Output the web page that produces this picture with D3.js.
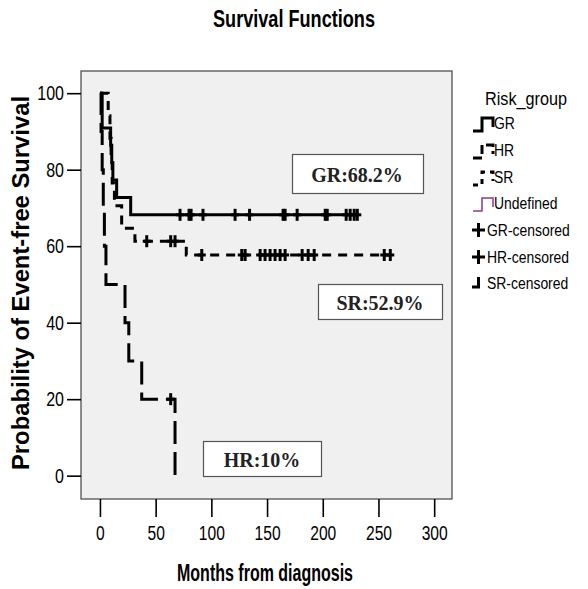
<!DOCTYPE html>
<html>
<head>
<meta charset="utf-8">
<script src="https://cdn.jsdelivr.net/npm/d3@7"></script>
<style>
  html, body { margin: 0; padding: 0; background: #ffffff; }
  svg { display: block; }
  .narrow { font-family: "Liberation Sans Narrow", "Arial Narrow", "Liberation Sans", Arial, sans-serif; }
  .serif { font-family: "Liberation Serif", "Times New Roman", serif; }
</style>
</head>
<body>
<svg id="chart" width="588" height="589"></svg>
<script>
// ---------------- DATA ----------------
const chartTitle = "Survival Functions";
const xTitle = "Months from diagnosis";
const yTitle = "Probability of Event-free Survival";
const xTicks = [0, 50, 100, 150, 200, 250, 300];
const yTicks = [0, 20, 40, 60, 80, 100];

// GR (solid)
const grTimes = [0, 2, 9.6, 10.6, 11.6, 15, 27.6];
const grSurv  = [100, 90.9, 86.4, 81.8, 77.3, 72.7, 68.2];
const grEnd = 231;
const grCensored = [71.9, 80, 81.8, 92.5, 121.3, 134.3, 164.4, 166.2, 177, 202.2, 204, 221, 224.6, 228.2, 231];

// HR (long dash)
const hrTimes = [0, 1, 2, 3, 4, 5.4, 22.5, 25.9, 37.5, 67.4];
const hrSurv  = [100, 90, 80, 70, 60, 50, 40, 30, 20, 0];
const hrEnd = 67.4;
const hrCensored = [63.5];

// SR (short dash)
const srTimes = [0, 7.4, 9, 10, 11, 13, 19.5, 31.4, 77.5];
const srSurv  = [100, 94.1, 88.2, 82.4, 76.5, 70.6, 64.7, 61.3, 57.7];
const srEnd = 260.6;
const srCensored = [42.0, 63.5, 67.4, 91.4, 127.3, 130.3, 143.8, 148.2, 152.7, 157.2, 161.7, 166.2, 181.5, 186.9, 192.3, 255.2, 260.6];

const boxLabels = ["GR:68.2%", "SR:52.9%", "HR:10%"];
const legendTitle = "Risk_group";
const legendItems = ["GR", "HR", "SR", "Undefined", "GR-censored", "HR-censored", "SR-censored"];

// ---------------- LAYOUT ----------------
const svg = d3.select("#chart");
const plot = { left: 81, right: 452, top: 71, bottom: 499 };

const x = d3.scaleLinear().domain([-17, 316]).range([plot.left, plot.right]);
const y = d3.scaleLinear().domain([-6.1, 105.8]).range([plot.bottom, plot.top]);

function condense(sel, factor) {
  sel.each(function () {
    const w = this.getComputedTextLength();
    d3.select(this).attr("textLength", w * factor).attr("lengthAdjust", "spacingAndGlyphs");
  });
}

// title
svg.append("text")
  .attr("x", 294).attr("y", 27)
  .attr("text-anchor", "middle")
  .attr("class", "narrow")
  .attr("font-size", 24).attr("font-weight", "bold")
  .attr("fill", "#000")
  .attr("textLength", 162).attr("lengthAdjust", "spacingAndGlyphs")
  .text(chartTitle);

// plot background
svg.append("rect")
  .attr("x", plot.left).attr("y", plot.top)
  .attr("width", plot.right - plot.left).attr("height", plot.bottom - plot.top)
  .attr("fill", "#f0f0f0").attr("stroke", "#444").attr("stroke-width", 1.2);

// axes
const yAxis = d3.axisLeft(y).tickValues(yTicks).tickSize(14).tickPadding(3).tickFormat(d3.format("d"));
const gy = svg.append("g").attr("transform", `translate(${plot.left},0)`).call(yAxis);
gy.select(".domain").remove();
gy.selectAll(".tick line").attr("stroke", "#000").attr("stroke-width", 1.6);
gy.selectAll(".tick text").attr("class", "narrow").attr("font-size", 20).attr("fill", "#000");
condense(gy.selectAll(".tick text"), 0.8);

const xAxis = d3.axisBottom(x).tickValues(xTicks).tickSize(18).tickPadding(9).tickFormat(d3.format("d"));
const gx = svg.append("g").attr("transform", `translate(0,${plot.bottom})`).call(xAxis);
gx.select(".domain").remove();
gx.selectAll(".tick line").attr("stroke", "#000").attr("stroke-width", 1.6);
gx.selectAll(".tick text").attr("class", "narrow").attr("font-size", 20).attr("fill", "#000");
condense(gx.selectAll(".tick text"), 0.78);

// axis titles
svg.append("text")
  .attr("x", 265).attr("y", 581)
  .attr("text-anchor", "middle")
  .attr("class", "narrow")
  .attr("font-size", 23).attr("font-weight", "bold")
  .attr("textLength", 176).attr("lengthAdjust", "spacingAndGlyphs")
  .text(xTitle);

svg.append("text")
  .attr("transform", "translate(29,283) rotate(-90)")
  .attr("text-anchor", "middle")
  .attr("class", "narrow")
  .attr("font-size", 23).attr("font-weight", "bold")
  .attr("textLength", 374).attr("lengthAdjust", "spacingAndGlyphs")
  .text(yTitle);

// ---------------- CURVES ----------------
svg.append("clipPath").attr("id", "clip")
  .append("rect").attr("x", plot.left).attr("y", plot.top)
  .attr("width", plot.right - plot.left).attr("height", plot.bottom - plot.top);

const plotG = svg.append("g").attr("clip-path", "url(#clip)");

const stepLine = d3.line().x(d => x(d[0])).y(d => y(d[1])).curve(d3.curveStepAfter);

function survPoints(times, surv, end) {
  const pts = times.map((t, i) => [t, surv[i]]);
  const last = pts[pts.length - 1];
  if (end > last[0]) pts.push([end, last[1]]);
  return pts;
}
function survAt(times, surv, t) {
  let v = surv[0];
  for (let i = 0; i < times.length; i++) if (times[i] <= t) v = surv[i];
  return v;
}

const groups = [
  { times: grTimes, surv: grSurv, end: grEnd, cens: grCensored, dash: null },
  { times: srTimes, surv: srSurv, end: srEnd, cens: srCensored, dash: "9,7" },
  { times: hrTimes, surv: hrSurv, end: hrEnd, cens: hrCensored, dash: "23,8" }
];

groups.forEach(g => {
  plotG.append("path")
    .datum(survPoints(g.times, g.surv, g.end))
    .attr("d", stepLine)
    .attr("fill", "none")
    .attr("stroke", "#000")
    .attr("stroke-width", 3)
    .attr("stroke-dasharray", g.dash);

  plotG.selectAll(null)
    .data(g.cens)
    .enter().append("line")
    .attr("x1", d => x(d)).attr("x2", d => x(d))
    .attr("y1", d => y(survAt(g.times, g.surv, d)) - 6)
    .attr("y2", d => y(survAt(g.times, g.surv, d)) + 6)
    .attr("stroke", "#000").attr("stroke-width", 3);

  plotG.selectAll(null)
    .data(g.cens)
    .enter().append("line")
    .attr("x1", d => x(d) - 4).attr("x2", d => x(d) + 4)
    .attr("y1", d => y(survAt(g.times, g.surv, d)))
    .attr("y2", d => y(survAt(g.times, g.surv, d)))
    .attr("stroke", "#000").attr("stroke-width", 3);
});

// ---------------- LABEL BOXES ----------------
const boxes = [
  { x0: 292, y0: 154, x1: 423, y1: 193, tx: 357, ty: 182 },
  { x0: 318, y0: 284, x1: 442, y1: 319, tx: 380, ty: 310 },
  { x0: 203, y0: 441, x1: 321, y1: 476, tx: 262, ty: 467 }
];
boxes.forEach((b, i) => {
  svg.append("rect")
    .attr("x", b.x0 + 0.5).attr("y", b.y0 + 0.5)
    .attr("width", b.x1 - b.x0).attr("height", b.y1 - b.y0)
    .attr("fill", "#fff").attr("stroke", "#555").attr("stroke-width", 1.2);
  svg.append("text")
    .attr("x", b.tx).attr("y", b.ty)
    .attr("text-anchor", "middle")
    .attr("class", "serif")
    .attr("font-size", 20).attr("font-weight", "bold")
    .attr("fill", "#222")
    .text(boxLabels[i]);
});

// ---------------- LEGEND ----------------
const lg = svg.append("g");
lg.append("text")
  .attr("x", 485).attr("y", 105)
  .attr("class", "narrow")
  .attr("font-size", 18)
  .attr("textLength", 82).attr("lengthAdjust", "spacingAndGlyphs")
  .text(legendTitle);

const rowY = [123, 150, 177, 203, 230, 257, 283];
const iconStyles = [
  { stroke: "#000", dash: null, w: 3 },
  { stroke: "#000", dash: "9,4", w: 3 },
  { stroke: "#000", dash: "5,5", w: 3 },
  { stroke: "#8b3a8b", dash: null, w: 1.5 }
];
legendItems.forEach((name, i) => {
  const cy = rowY[i];
  let t;
  if (i < 4) {
    const s = iconStyles[i];
    lg.append("path")
      .attr("d", `M473,${cy + 8} H482 V${cy - 5} H493 V${cy + 4}`)
      .attr("fill", "none")
      .attr("stroke", s.stroke).attr("stroke-width", s.w)
      .attr("stroke-dasharray", s.dash);
    t = lg.append("text")
      .attr("x", 494).attr("y", cy + 6)
      .attr("class", "narrow").attr("font-size", 16)
      .text(name);
  } else {
    if (i < 6) {
      lg.append("path")
        .attr("d", `M472,${cy} H485 M478.5,${cy - 7} V${cy + 7}`)
        .attr("stroke", "#000").attr("stroke-width", 3);
    } else {
      lg.append("path")
        .attr("d", `M478.5,${cy - 6} V${cy + 4} H472`)
        .attr("fill", "none")
        .attr("stroke", "#000").attr("stroke-width", 3);
    }
    t = lg.append("text")
      .attr("x", 487).attr("y", cy + 6)
      .attr("class", "narrow").attr("font-size", 16)
      .text(name);
  }
  condense(t, 0.87);
});
</script>
</body>
</html>
